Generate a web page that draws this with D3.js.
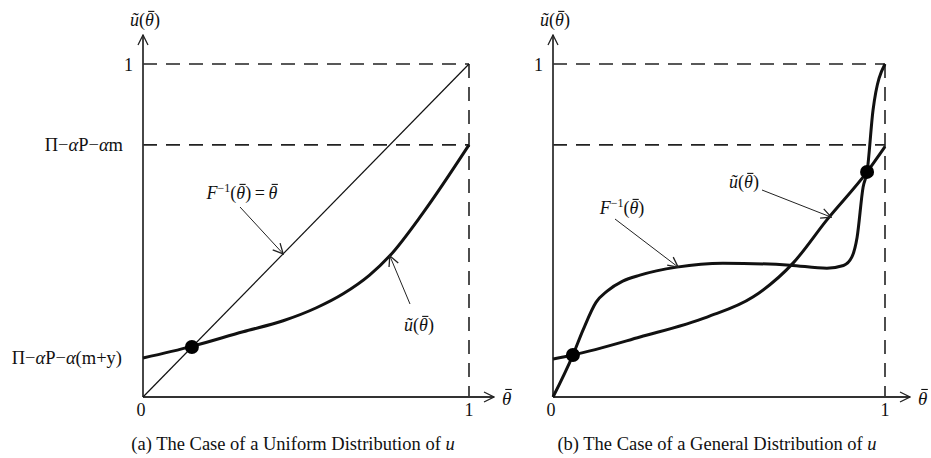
<!DOCTYPE html>
<meta charset="utf-8">
<head>
  <title>Uniform vs general distribution</title>
</head>
<style>
body { margin: 0; background: #fff; }
text { font-family: "Liberation Serif", "Times New Roman", serif; fill: #111; }
.axis { stroke: #333; stroke-width: 1.8px; fill: none; }
.guide { stroke: #222; stroke-width: 1.6px; fill: none; stroke-dasharray: 14 9; }
.thin { stroke: #111; stroke-width: 1.2px; fill: none; }
.thick { stroke: #111; stroke-width: 3px; fill: none; }
.pointer { stroke: #222; stroke-width: 1px; fill: none; }
.bar { stroke: #111; stroke-width: 1.1px; }
</style>
<body>
<script src="https://d3js.org/d3.v7.min.js"></script>
<script>

// levels on the vertical axis (fraction of 1)
var topLevel = 1;
var piLevel = 0.757;        // Π−αP−αm
var interceptLevel = 0.117; // Π−αP−α(m+y)

// (a) uniform case
var leftDiagonal = [[0, 0], [1, 1]];
var leftU = [[0, 0.117], [0.15, 0.152], [0.307, 0.196], [0.43, 0.229], [0.532, 0.268],
             [0.614, 0.31], [0.695, 0.366], [0.757, 0.424], [0.859, 0.553], [1, 0.757]];
var leftDot = [0.15, 0.15];

// (b) general case
var rightF = [[0, 0], [0.06, 0.126], [0.09, 0.2], [0.13, 0.285], [0.163, 0.318],
              [0.21, 0.348], [0.262, 0.366], [0.373, 0.39], [0.512, 0.402], [0.714, 0.396],
              [0.825, 0.387], [0.875, 0.395], [0.9, 0.42], [0.916, 0.48], [0.934, 0.63],
              [0.946, 0.676], [0.964, 0.862], [1, 1]];
var rightU = [[0, 0.114], [0.06, 0.126], [0.262, 0.18], [0.464, 0.24], [0.602, 0.30],
              [0.723, 0.402], [0.825, 0.532], [0.946, 0.676], [1, 0.752]];
var rightDots = [[0.06, 0.126], [0.946, 0.676]];

var captions = ["(a) The Case of a Uniform Distribution of ", "(b) The Case of a General Distribution of "];

var svg = d3.select("body").append("svg")
    .attr("width", 931)
    .attr("height", 458);

// open arrowhead
var defs = svg.append("defs");
defs.append("marker")
    .attr("id", "vee")
    .attr("viewBox", "0 0 12 12")
    .attr("refX", 11).attr("refY", 6)
    .attr("markerWidth", 12).attr("markerHeight", 12)
    .attr("markerUnits", "userSpaceOnUse")
    .attr("orient", "auto")
  .append("path")
    .attr("d", "M1,1 L11,6 L1,11")
    .attr("fill", "none")
    .attr("stroke", "#222")
    .attr("stroke-width", 1.3);

var y = d3.scaleLinear().domain([0, 1]).range([397, 64]);
var xa = d3.scaleLinear().domain([0, 1]).range([143, 469]);
var xb = d3.scaleLinear().domain([0, 1]).range([553, 885]);

function lineFor(x, curve) {
  return d3.line()
      .x(function(d) { return x(d[0]); })
      .y(function(d) { return y(d[1]); })
      .curve(curve);
}

// put a bar over every θ in a text element (combining macron renders badly)
function overbars(g, t) {
  var node = t.node();
  var s = node.textContent;
  for (var i = 0; i < s.length; i++) {
    if (s[i] !== "\u03B8") continue;
    var e = node.getExtentOfChar(i);
    g.append("line").attr("class", "bar")
        .attr("x1", e.x + e.width * 0.35).attr("x2", e.x + e.width * 1.05)
        .attr("y1", e.y + e.height * 0.07).attr("y2", e.y + e.height * 0.07);
  }
}

// ũ(θ̄) label
function uLabel(g, cx, cy, size) {
  var t = g.append("text")
      .attr("x", cx).attr("y", cy)
      .attr("text-anchor", "middle")
      .style("font-size", size + "px");
  t.append("tspan").style("font-style", "italic").text("u\u0303");
  t.append("tspan").text("(");
  t.append("tspan").style("font-style", "italic").text("\u03B8");
  t.append("tspan").text(")");
  overbars(g, t);
  return t;
}

function drawFrame(x, caption, capX) {
  var g = svg.append("g");

  // guides
  g.append("line").attr("class", "guide")
      .attr("x1", x(0)).attr("x2", x(1)).attr("y1", y(topLevel)).attr("y2", y(topLevel));
  g.append("line").attr("class", "guide")
      .attr("x1", x(0)).attr("x2", x(1)).attr("y1", y(piLevel)).attr("y2", y(piLevel));
  g.append("line").attr("class", "guide")
      .attr("x1", x(1)).attr("x2", x(1)).attr("y1", y(topLevel)).attr("y2", y(0));

  // axes with open arrows
  g.append("line").attr("class", "axis")
      .attr("x1", x(0)).attr("x2", x(0)).attr("y1", y(0)).attr("y2", 35)
      .attr("marker-end", "url(#vee)");
  g.append("line").attr("class", "axis")
      .attr("x1", x(0)).attr("x2", x(1) + 25).attr("y1", y(0)).attr("y2", y(0))
      .attr("marker-end", "url(#vee)");

  uLabel(g, x(0) + 2, 26, 18);

  var th = g.append("text")
      .attr("x", x(1) + 33).attr("y", y(0) + 8)
      .style("font-size", "19px")
      .style("font-style", "italic")
      .text("\u03B8");
  overbars(g, th);

  g.append("text").attr("x", x(0) - 2).attr("y", y(0) + 19)
      .attr("text-anchor", "middle").style("font-size", "18px").text("0");
  g.append("text").attr("x", x(1)).attr("y", y(0) + 19)
      .attr("text-anchor", "middle").style("font-size", "18px").text("1");
  g.append("text").attr("x", x(0) - 10).attr("y", y(topLevel) + 7)
      .attr("text-anchor", "end").style("font-size", "18px").text("1");

  var c = g.append("text").attr("x", capX).attr("y", 450)
      .attr("text-anchor", "middle")
      .style("font-size", "18.5px")
      .text(caption);
  c.append("tspan").style("font-style", "italic").text("u");
  return g;
}

function piLabel(g, xEnd, yPos, tail) {
  var t = g.append("text").attr("x", xEnd).attr("y", yPos)
      .attr("text-anchor", "end").style("font-size", "18.5px");
  t.append("tspan").text("\u03A0\u2212");
  t.append("tspan").style("font-style", "italic").text("\u03B1");
  t.append("tspan").text("P\u2212");
  t.append("tspan").style("font-style", "italic").text("\u03B1");
  t.append("tspan").text(tail);
  return t;
}

// F⁻¹(θ̄) label, optional "= θ̄" tail
function fLabel(g, cx, cy, withEq) {
  var t = g.append("text").attr("x", cx).attr("y", cy)
      .attr("text-anchor", "middle").style("font-size", "18px");
  t.append("tspan").style("font-style", "italic").text("F");
  t.append("tspan").attr("dy", -7).style("font-size", "12px").text("\u22121");
  t.append("tspan").attr("dy", 7).text("(");
  t.append("tspan").style("font-style", "italic").text("\u03B8");
  t.append("tspan").text(")");
  if (withEq) {
    t.append("tspan").text("\u2009=\u2009");
    t.append("tspan").style("font-style", "italic").text("\u03B8");
  }
  overbars(g, t);
  return t;
}

// ---- panel (a)
var ga = drawFrame(xa, captions[0], 293);

piLabel(ga, 123, y(piLevel) + 6, "m");
piLabel(ga, 122, y(interceptLevel) + 6, "(m+y)");

ga.append("path").datum(leftDiagonal).attr("class", "thin")
    .attr("d", lineFor(xa, d3.curveLinear));
ga.append("path").datum(leftU).attr("class", "thick")
    .attr("d", lineFor(xa, d3.curveMonotoneX));
ga.append("circle").attr("cx", xa(leftDot[0])).attr("cy", y(leftDot[1])).attr("r", 7).attr("fill", "#000");

fLabel(ga, 242, 199, true);
ga.append("line").attr("class", "pointer")
    .attr("x1", 240).attr("y1", 207).attr("x2", xa(0.43)).attr("y2", y(0.43))
    .attr("marker-end", "url(#vee)");

uLabel(ga, 419, 331, 18);
ga.append("line").attr("class", "pointer")
    .attr("x1", 410).attr("y1", 304).attr("x2", xa(0.757)).attr("y2", y(0.424))
    .attr("marker-end", "url(#vee)");

// ---- panel (b)
var gb = drawFrame(xb, captions[1], 717);

gb.append("path").datum(rightU).attr("class", "thick")
    .attr("d", lineFor(xb, d3.curveMonotoneX));
gb.append("path").datum(rightF).attr("class", "thick")
    .attr("d", lineFor(xb, d3.curveMonotoneX));
gb.selectAll("circle.dot").data(rightDots).enter().append("circle")
    .attr("class", "dot")
    .attr("cx", function(d) { return xb(d[0]); })
    .attr("cy", function(d) { return y(d[1]); })
    .attr("r", 7).attr("fill", "#000");

fLabel(gb, 622, 214, false);
gb.append("line").attr("class", "pointer")
    .attr("x1", 615).attr("y1", 219).attr("x2", xb(0.377)).attr("y2", y(0.39))
    .attr("marker-end", "url(#vee)");

uLabel(gb, 744, 188, 18);
gb.append("line").attr("class", "pointer")
    .attr("x1", 762).attr("y1", 190).attr("x2", xb(0.838)).attr("y2", y(0.54))
    .attr("marker-end", "url(#vee)");

</script>
</body>
